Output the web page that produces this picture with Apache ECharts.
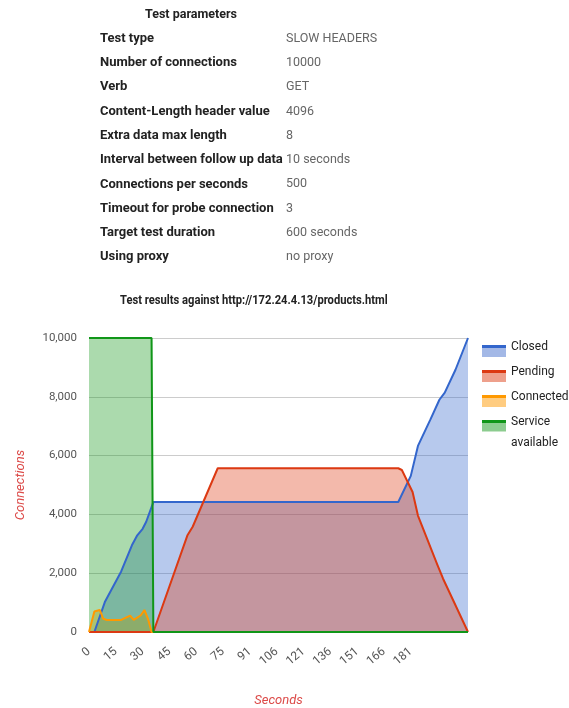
<!DOCTYPE html>
<html>
<head>
<meta charset="utf-8">
<script src="https://cdn.jsdelivr.net/npm/echarts@6/dist/echarts.min.js"></script>
<style>
html,body{margin:0;padding:0;background:#fff;}
#chart{width:569px;height:708px;}
</style>
</head>
<body>
<div id="chart"></div>
<script>
// ---- data ----
const paramTitle = 'Test parameters';
const paramLabels = ['Test type','Number of connections','Verb','Content-Length header value','Extra data max length','Interval between follow up data','Connections per seconds','Timeout for probe connection','Target test duration','Using proxy'];
const paramValues = ['SLOW HEADERS','10000','GET','4096','8','10 seconds','500','3','600 seconds','no proxy'];

const chartTitle = 'Test results against http://172.24.4.13/products.html';
const xTickLabels = ['0','15','30','45','60','75','91','106','121','136','151','166','181'];
const yMax = 10000;
const sampleCount = 212; // index of last sample

const closedX = [0,3,9,18,24,27,30,32,36,173,180,184,191,196,199,205,212];
const closedY = [0,0,1040,2060,2950,3290,3510,3750,4420,4420,5310,6330,7230,7900,8140,8920,10000];

const pendingX = [0,36,55,58,72,173,175,181,184,195,198,212];
const pendingY = [0,0,3280,3580,5570,5570,5510,4760,3960,2270,1820,0];

const connectedX = [0,1,3,6,8,10,18,23,25,29,31,33,35,212];
const connectedY = [0,0,700,750,450,410,410,560,410,570,750,450,0,0];

const serviceX = [0,35,36,212];
const serviceY = [10000,10000,0,0];

// ---- build ----
const FONT = 'Roboto, "Liberation Sans", Arial, sans-serif';
function pairs(xs, ys){ return xs.map((x,i)=>[x, ys[i]]); }
function grad(dark, light){
  return new echarts.graphic.LinearGradient(0,0,0,1,[
    {offset:0,color:'rgba(255,255,255,0)'},{offset:0.4,color:'rgba(255,255,255,0)'},
    {offset:0.4,color:dark},{offset:0.55,color:dark},
    {offset:0.55,color:light},{offset:1,color:light}]);
}
const colors = {
  Closed:['#3366cc','rgba(51,102,204,0.5)','#a3b8e6'],
  Pending:['#dc3912','rgba(220,57,18,0.5)','#eea08c'],
  Connected:['#ff9900','rgba(255,153,0,0.5)','#ffcc80'],
  'Service available':['#109618','rgba(16,150,24,0.5)','#8ccc8f']
};
function areaSeries(name, data){
  const c = colors[name];
  return {
    name, type:'line', data, symbol:'none', showSymbol:false,
    lineStyle:{color:c[0], width:2}, itemStyle:{color:c[0]},
    areaStyle:{color:c[1]}, animation:false
  };
}

const graphics = [];
graphics.push({type:'text', left:145, top:8, style:{text:paramTitle, font:'bold 12.5px '+FONT, fill:'#222'}});
paramLabels.forEach((lab,i)=>{
  graphics.push({type:'text', left:100, top:32+i*24.3, style:{text:lab, font:'bold 13px '+FONT, fill:'#222'}});
  graphics.push({type:'text', left:286, top:32+i*24.3, style:{text:paramValues[i], font:'12.5px '+FONT, fill:'#666'}});
});
// chart title (slightly condensed like the reference)
graphics.push({type:'text', x:120, y:294, scaleX:0.86, style:{text:chartTitle, font:'bold 13px '+FONT, fill:'#222'}});

const chart = echarts.init(document.getElementById('chart'), null, {renderer:'canvas'});
chart.setOption({
  animation:false,
  backgroundColor:'#fff',
  graphic:graphics,
  legend:[{
    orient:'vertical', left:482, top:337, padding:0, itemWidth:24, itemHeight:20, itemGap:5,
    data:['Closed','Pending','Connected'].map(n=>({name:n, icon:'rect', itemStyle:{color:grad(colors[n][0], colors[n][2])}})),
    textStyle:{fontFamily:FONT, fontSize:12, color:'#222'}
  },{
    orient:'vertical', left:482, top:390, padding:0, itemWidth:24, itemHeight:20,
    data:[{name:'Service available', icon:'rect', itemStyle:{color:grad(colors['Service available'][0], colors['Service available'][2])}}],
    formatter:()=>' \nService\navailable',
    textStyle:{fontFamily:FONT, fontSize:12, color:'#222', lineHeight:21}
  }],
  grid:{left:89, right:101, top:338, bottom:74, containLabel:false},
  xAxis:{
    type:'value', min:0, max:sampleCount, interval:15,
    name:'Seconds', nameLocation:'middle', nameGap:62,
    nameTextStyle:{fontFamily:FONT, fontSize:13, fontStyle:'italic', color:'#dc4a48'},
    axisLine:{show:false}, axisTick:{show:false}, splitLine:{show:false},
    axisLabel:{rotate:40, margin:18, fontFamily:FONT, fontSize:12, color:'#555',
      showMaxLabel:false,
      formatter:v=>{const k=Math.round(v/15); return (v%15===0 && xTickLabels[k]!==undefined)?xTickLabels[k]:'';}}
  },
  yAxis:{
    type:'value', min:0, max:yMax, interval:2000,
    name:'Connections', nameLocation:'middle', nameGap:62,
    nameTextStyle:{fontFamily:FONT, fontSize:13, fontStyle:'italic', color:'#dc4a48'},
    axisLine:{show:false}, axisTick:{show:false},
    splitLine:{lineStyle:{color:'#cccccc', width:1}},
    axisLabel:{margin:12, fontFamily:FONT, fontSize:11.5, color:'#555',
      formatter:v=>v.toLocaleString('en-US')}
  },
  series:[
    areaSeries('Closed', pairs(closedX, closedY)),
    areaSeries('Pending', pairs(pendingX, pendingY)),
    areaSeries('Connected', pairs(connectedX, connectedY)),
    areaSeries('Service available', pairs(serviceX, serviceY))
  ]
});
</script>
</body>
</html>
